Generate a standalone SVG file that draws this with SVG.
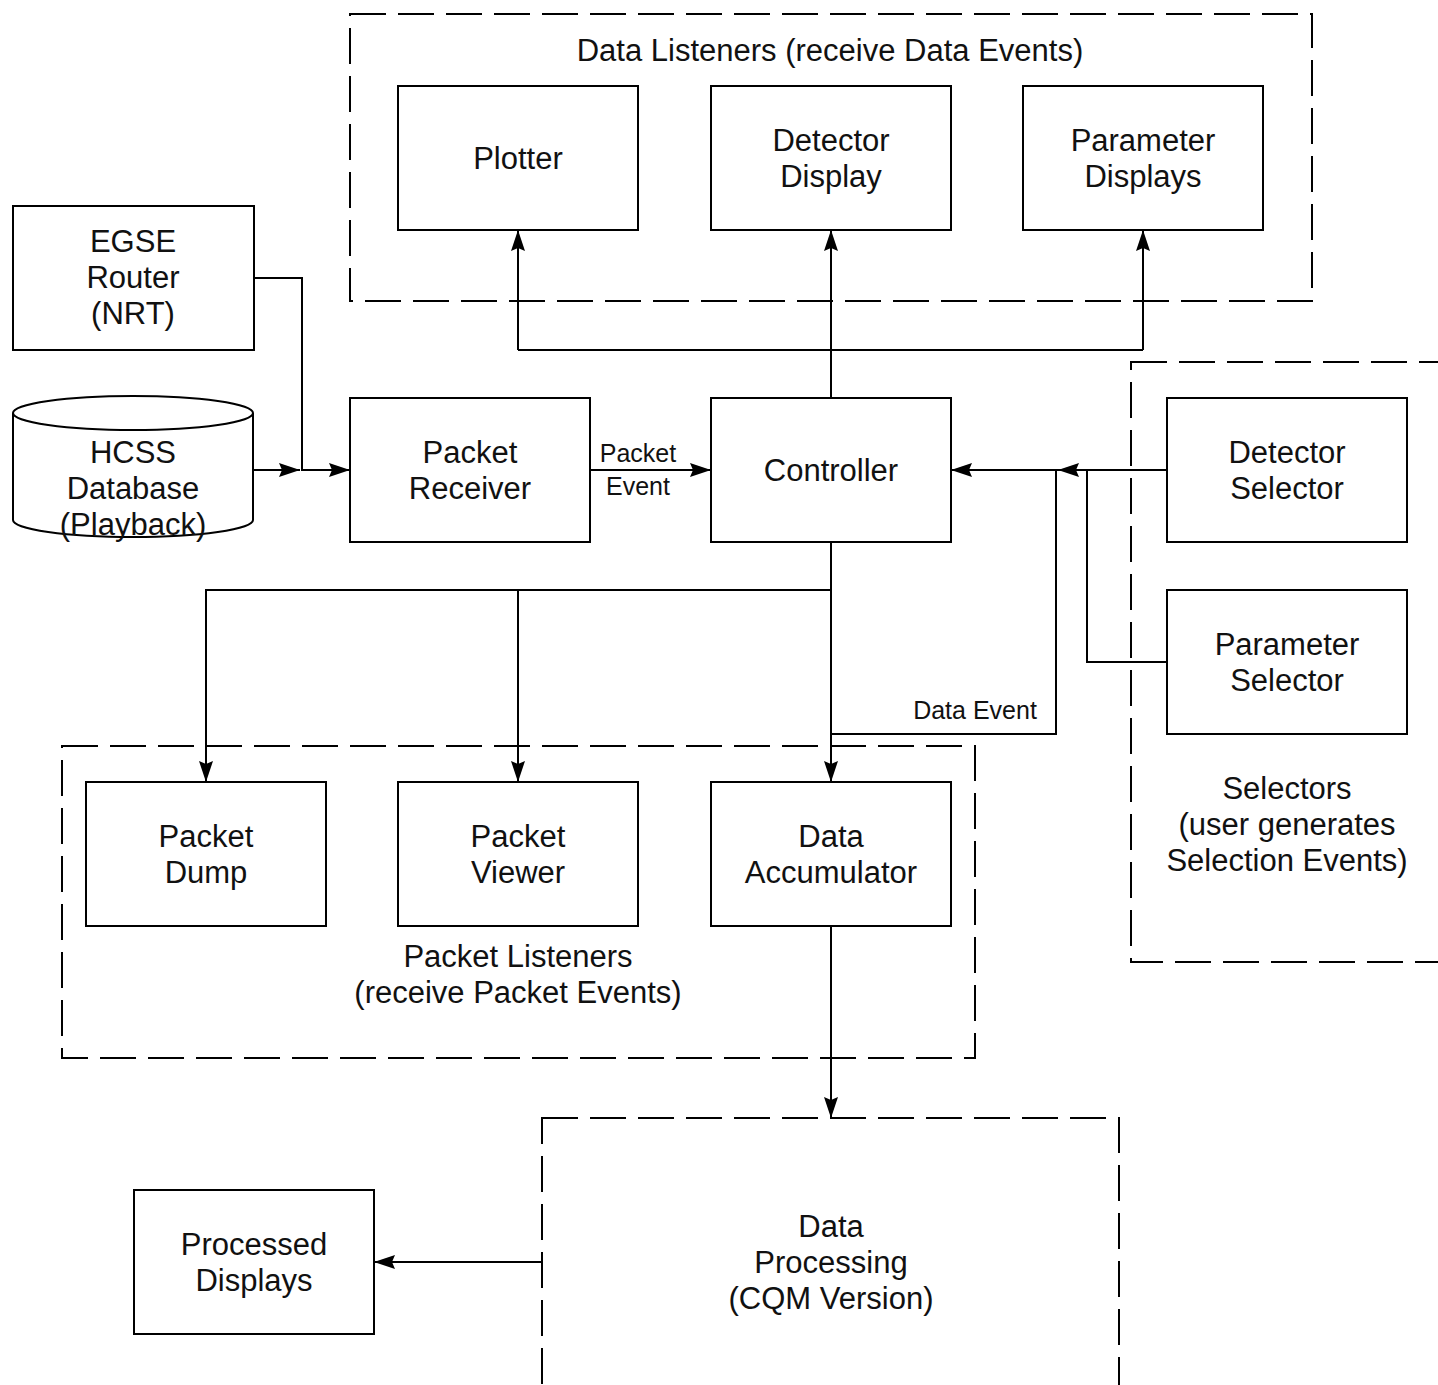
<svg xmlns="http://www.w3.org/2000/svg" width="1438" height="1385" viewBox="0 0 1438 1385">
<style>
.box{fill:#fff;stroke:#000;stroke-width:2}
.grp{fill:none;stroke:#000;stroke-width:2;stroke-dasharray:36 12}
.ln{fill:none;stroke:#000;stroke-width:2}
.t{font-family:"Liberation Sans",Arial,sans-serif;font-size:31px;text-anchor:middle;fill:#111}
.s{font-family:"Liberation Sans",Arial,sans-serif;font-size:25px;text-anchor:middle;fill:#111}
</style>
<defs>
<marker id="ah" markerUnits="userSpaceOnUse" markerWidth="24" markerHeight="16" refX="22" refY="8" orient="auto">
<path d="M1,1 L22,8 L1,15 L4,8 z" fill="#000"/>
</marker>
</defs>
<rect width="1438" height="1385" fill="#fff"/>

<g id="groups">
<g id="data-listeners"><rect class="grp" x="350" y="14" width="962" height="287"/><text class="t" x="830" y="61">Data Listeners (receive Data Events)</text></g>
<g id="selectors"><rect class="grp" x="1131" y="362" width="340" height="600"/><text class="t" x="1287" y="799">Selectors</text><text class="t" x="1287" y="835">(user generates</text><text class="t" x="1287" y="871">Selection Events)</text></g>
<g id="packet-listeners"><rect class="grp" x="62" y="746" width="913" height="312"/><text class="t" x="518" y="967">Packet Listeners</text><text class="t" x="518" y="1003">(receive Packet Events)</text></g>
<g id="data-processing"><rect class="grp" x="542" y="1118" width="577" height="300"/><text class="t" x="831" y="1237">Data</text><text class="t" x="831" y="1273">Processing</text><text class="t" x="831" y="1309">(CQM Version)</text></g>
</g>

<g id="connectors">
<polyline class="ln" points="254,278 302,278 302,470 350,470" marker-end="url(#ah)"/>
<line class="ln" x1="253" y1="470" x2="300" y2="470" marker-end="url(#ah)"/>
<line class="ln" x1="590" y1="470" x2="711" y2="470" marker-end="url(#ah)"/>
<line class="ln" x1="831" y1="398" x2="831" y2="230" marker-end="url(#ah)"/>
<line class="ln" x1="518" y1="350" x2="1143" y2="350"/>
<line class="ln" x1="518" y1="350" x2="518" y2="230" marker-end="url(#ah)"/>
<line class="ln" x1="1143" y1="350" x2="1143" y2="230" marker-end="url(#ah)"/>
<line class="ln" x1="1167" y1="470" x2="951" y2="470" marker-end="url(#ah)"/>
<polyline class="ln" points="1167,662 1087,662 1087,470 1058,470" marker-end="url(#ah)"/>
<polyline class="ln" points="831,734 1056,734 1056,470"/>
<line class="ln" x1="831" y1="542" x2="831" y2="782" marker-end="url(#ah)"/>
<polyline class="ln" points="831,590 206,590 206,782" marker-end="url(#ah)"/>
<line class="ln" x1="518" y1="590" x2="518" y2="782" marker-end="url(#ah)"/>
<line class="ln" x1="831" y1="926" x2="831" y2="1118" marker-end="url(#ah)"/>
<line class="ln" x1="542" y1="1262" x2="374" y2="1262" marker-end="url(#ah)"/>
<text class="s" x="638" y="462">Packet</text>
<text class="s" x="638" y="495">Event</text>
<text class="s" x="975" y="719">Data Event</text>
</g>

<g id="plotter"><rect class="box" x="398" y="86" width="240" height="144"/><text class="t" x="518" y="169">Plotter</text></g>
<g id="detector-display"><rect class="box" x="711" y="86" width="240" height="144"/><text class="t" x="831" y="151">Detector</text><text class="t" x="831" y="187">Display</text></g>
<g id="parameter-displays"><rect class="box" x="1023" y="86" width="240" height="144"/><text class="t" x="1143" y="151">Parameter</text><text class="t" x="1143" y="187">Displays</text></g>
<g id="egse-router"><rect class="box" x="13" y="206" width="241" height="144"/><text class="t" x="133" y="252">EGSE</text><text class="t" x="133" y="288">Router</text><text class="t" x="133" y="324">(NRT)</text></g>
<g id="hcss-database">
<path class="box" d="M13,413 L13,520 A120,17 0 0 0 253,520 L253,413"/>
<ellipse class="box" cx="133" cy="413" rx="120" ry="17"/>
<text class="t" x="133" y="463">HCSS</text><text class="t" x="133" y="499">Database</text><text class="t" x="133" y="535">(Playback)</text>
</g>
<g id="packet-receiver"><rect class="box" x="350" y="398" width="240" height="144"/><text class="t" x="470" y="463">Packet</text><text class="t" x="470" y="499">Receiver</text></g>
<g id="controller"><rect class="box" x="711" y="398" width="240" height="144"/><text class="t" x="831" y="481">Controller</text></g>
<g id="detector-selector"><rect class="box" x="1167" y="398" width="240" height="144"/><text class="t" x="1287" y="463">Detector</text><text class="t" x="1287" y="499">Selector</text></g>
<g id="parameter-selector"><rect class="box" x="1167" y="590" width="240" height="144"/><text class="t" x="1287" y="655">Parameter</text><text class="t" x="1287" y="691">Selector</text></g>
<g id="packet-dump"><rect class="box" x="86" y="782" width="240" height="144"/><text class="t" x="206" y="847">Packet</text><text class="t" x="206" y="883">Dump</text></g>
<g id="packet-viewer"><rect class="box" x="398" y="782" width="240" height="144"/><text class="t" x="518" y="847">Packet</text><text class="t" x="518" y="883">Viewer</text></g>
<g id="data-accumulator"><rect class="box" x="711" y="782" width="240" height="144"/><text class="t" x="831" y="847">Data</text><text class="t" x="831" y="883">Accumulator</text></g>
<g id="processed-displays"><rect class="box" x="134" y="1190" width="240" height="144"/><text class="t" x="254" y="1255">Processed</text><text class="t" x="254" y="1291">Displays</text></g>
</svg>
